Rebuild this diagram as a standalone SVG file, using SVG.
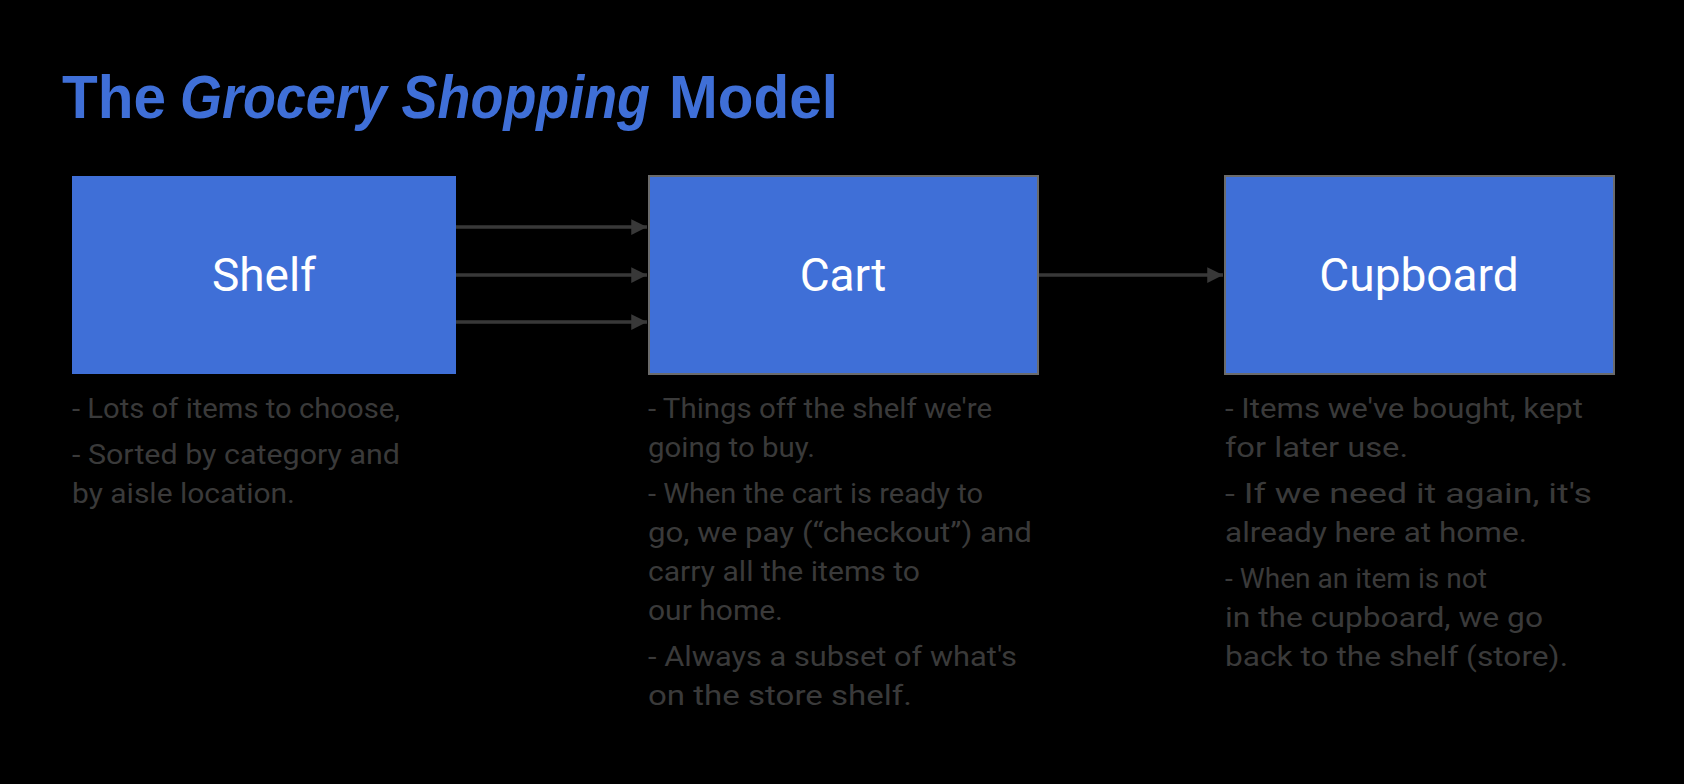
<svg xmlns="http://www.w3.org/2000/svg" width="1684" height="784" viewBox="0 0 1684 784">
<defs>
<style>
.box{fill:#3f6fd7;}
.bord{stroke:#6b6b6b;stroke-width:2;}
.lbl{font-family:Roboto,"Liberation Sans",sans-serif;font-size:46px;fill:#ffffff;text-anchor:middle;}
.note{font-family:Roboto,"Liberation Sans",sans-serif;font-size:28px;fill:#3a3a3a;}
.title{font-family:"Liberation Sans",Arial,sans-serif;font-size:62px;font-weight:bold;fill:#3f6fd7;}
.conn{stroke:#383838;stroke-width:3.5;fill:none;marker-end:url(#ah);}
</style>
<marker id="ah" viewBox="0 0 10 10" refX="10" refY="5" markerWidth="4.5" markerHeight="4.5" orient="auto" markerUnits="strokeWidth">
<path d="M0,0 L10,5 L0,10 z" fill="#383838"/>
</marker>
</defs>
<rect width="1684" height="784" fill="#000000"/>
<g id="title">
<text class="title" x="62" y="118" textLength="104" lengthAdjust="spacingAndGlyphs">The</text>
<text class="title" x="180" y="118" font-style="italic" textLength="470" lengthAdjust="spacingAndGlyphs">Grocery Shopping</text>
<text class="title" x="669" y="118" textLength="169" lengthAdjust="spacingAndGlyphs">Model</text>
</g>

<g id="connectors">
<line class="conn" x1="456" y1="227" x2="647" y2="227"/>
<line class="conn" x1="456" y1="275" x2="647" y2="275"/>
<line class="conn" x1="456" y1="322" x2="647" y2="322"/>
<line class="conn" x1="1034" y1="275" x2="1223" y2="275"/>
</g>

<g id="shelf">
<rect class="box" x="72" y="176" width="384" height="198"/>
<text class="lbl" x="264" y="291">Shelf</text>
<text class="note" x="72" y="418" textLength="328" lengthAdjust="spacingAndGlyphs">- Lots of items to choose,</text>
<text class="note" x="72" y="464" textLength="328" lengthAdjust="spacingAndGlyphs">- Sorted by category and</text>
<text class="note" x="72" y="503" textLength="223" lengthAdjust="spacingAndGlyphs">by aisle location.</text>
</g>

<g id="cart">
<rect class="box bord" x="649" y="176" width="389" height="198"/>
<text class="lbl" x="843" y="291">Cart</text>
<text class="note" x="648" y="418" textLength="344" lengthAdjust="spacingAndGlyphs">- Things off the shelf we're</text>
<text class="note" x="648" y="457" textLength="167" lengthAdjust="spacingAndGlyphs">going to buy.</text>
<text class="note" x="648" y="503" textLength="335" lengthAdjust="spacingAndGlyphs">- When the cart is ready to</text>
<text class="note" x="648" y="542" textLength="384" lengthAdjust="spacingAndGlyphs">go, we pay (“checkout”) and</text>
<text class="note" x="648" y="581" textLength="272" lengthAdjust="spacingAndGlyphs">carry all the items to</text>
<text class="note" x="648" y="620" textLength="135" lengthAdjust="spacingAndGlyphs">our home.</text>
<text class="note" x="648" y="666" textLength="369" lengthAdjust="spacingAndGlyphs">- Always a subset of what's</text>
<text class="note" x="648" y="705" textLength="264" lengthAdjust="spacingAndGlyphs">on the store shelf.</text>
</g>

<g id="cupboard">
<rect class="box bord" x="1225" y="176" width="389" height="198"/>
<text class="lbl" x="1419" y="291">Cupboard</text>
<text class="note" x="1225" y="418" textLength="358" lengthAdjust="spacingAndGlyphs">- Items we've bought, kept</text>
<text class="note" x="1225" y="457" textLength="183" lengthAdjust="spacingAndGlyphs">for later use.</text>
<text class="note" x="1225" y="503" textLength="367" lengthAdjust="spacingAndGlyphs">- If we need it again, it's</text>
<text class="note" x="1225" y="542" textLength="302" lengthAdjust="spacingAndGlyphs">already here at home.</text>
<text class="note" x="1225" y="588" textLength="262" lengthAdjust="spacingAndGlyphs">- When an item is not</text>
<text class="note" x="1225" y="627" textLength="318" lengthAdjust="spacingAndGlyphs">in the cupboard, we go</text>
<text class="note" x="1225" y="666" textLength="343" lengthAdjust="spacingAndGlyphs">back to the shelf (store).</text>
</g>
</svg>
